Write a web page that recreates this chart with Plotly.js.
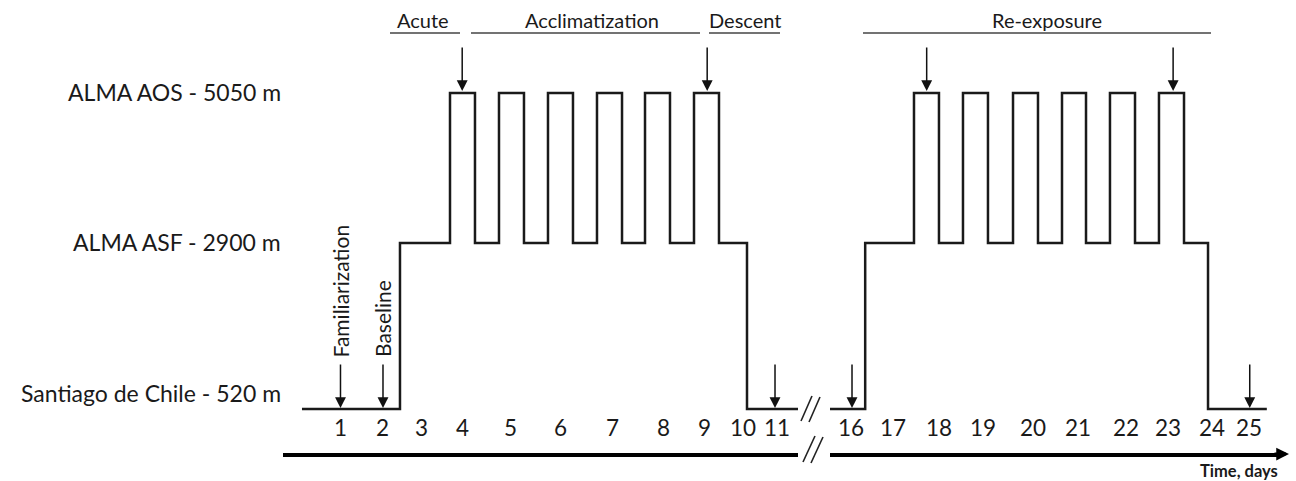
<!DOCTYPE html>
<html><head><meta charset="utf-8">
<script src="https://cdn.plot.ly/plotly-3.0.1.min.js"></script>
<style>html,body{margin:0;padding:0;background:#fff;}#chart{width:1296px;height:481px;}</style>
</head><body><div id="chart"></div>
<script>
// ---- data (schematic day units, altitude in m) ----
const levelNames = ['Santiago de Chile - 520 m', 'ALMA ASF - 2900 m', 'ALMA AOS - 5050 m'];
const levelAlt = [520, 2900, 5050];

const profile1X = [0.967,2.975,2.975,4.0,4.0,4.512,4.512,5.004,5.004,5.516,5.516,6.008,6.008,6.52,6.52,7.012,7.012,7.525,7.525,7.996,7.996,8.508,8.508,9.0,9.0,9.512,9.512,10.086,10.086,11.131];
const profile1Alt = [520,520,2900,2900,5050,5050,2900,2900,5050,5050,2900,2900,5050,5050,2900,2900,5050,5050,2900,2900,5050,5050,2900,2900,5050,5050,2900,2900,520,520];

const profile2X = [16.279,17.0,17.0,18.0,18.0,18.512,18.512,19.004,19.004,19.516,19.516,20.029,20.029,20.541,20.541,21.033,21.033,21.525,21.525,22.016,22.016,22.529,22.529,23.02,23.02,23.533,23.533,24.025,24.025,25.23];
const profile2Alt = [520,520,2900,2900,5050,5050,2900,2900,5050,5050,2900,2900,5050,5050,2900,2900,5050,5050,2900,2900,5050,5050,2900,2900,5050,5050,2900,2900,520,520];

const days1 = ['1','2','3','4','5','6','7','8','9','10','11'];
const days1Pos = [1.756,2.627,3.406,4.256,5.230,6.254,7.340,8.365,9.225,10.004,10.701];
const days2 = ['16','17','18','19','20','21','22','23','24','25'];
const days2Pos = [16.709,17.570,18.512,19.414,20.439,21.361,22.336,23.209,24.107,24.865];

const phaseNames = ['Acute','Acclimatization','Descent','Re-exposure'];
const phaseAxis = ['x','x','x','x2'];
const phaseStart = [2.77,4.43,9.307,16.955];
const phaseEnd = [4.205,9.123,10.762,24.086];
const phaseLabelPos = [3.447,6.91,10.045,20.725];

// test-day arrows: position, axis, level
const testPos = [1.756,2.627,4.25,9.27,10.66,16.73,18.26,23.31,24.88];
const testAxis = ['x','x','x','x','x','x2','x2','x2','x2'];
const testAlt = [520,520,5050,5050,520,520,5050,5050,520];

const sideLabels = ['Familiarization','Baseline'];
const sideLabelPos = [1.756,2.627];

// ---- layout helpers ----
const W = 1296, H = 481;
const px = v => v / W;
const py = v => (H - v) / H;
const font = 'Lato, "Open Sans", sans-serif';
const ink = '#1a1a1a';

const traces = [
  {x: profile1X, y: profile1Alt, xaxis: 'x', yaxis: 'y', mode: 'lines', line: {color: ink, width: 2.5}, hoverinfo: 'skip'},
  {x: profile2X, y: profile2Alt, xaxis: 'x2', yaxis: 'y', mode: 'lines', line: {color: ink, width: 2.5}, hoverinfo: 'skip'}
];

const annotations = [];
const shapes = [];

// altitude labels
levelNames.forEach((t, i) => {
  annotations.push({xref: 'paper', yref: 'y', x: px(283), y: levelAlt[i], yshift: i === 0 ? 16 : 1,
    xanchor: 'right', yanchor: 'middle', showarrow: false, text: t, font: {family: font, size: 23, color: ink}});
});

// day labels
days1.forEach((t, i) => annotations.push({xref: 'x', yref: 'paper', x: days1Pos[i], y: py(427), xanchor: 'center', yanchor: 'middle',
  showarrow: false, text: t, font: {family: font, size: 22.5, color: ink}}));
days2.forEach((t, i) => annotations.push({xref: 'x2', yref: 'paper', x: days2Pos[i], y: py(427), xanchor: 'center', yanchor: 'middle',
  showarrow: false, text: t, font: {family: font, size: 22.5, color: ink}}));

// phases
phaseNames.forEach((t, i) => {
  annotations.push({xref: phaseAxis[i], yref: 'paper', x: phaseLabelPos[i], y: py(20), xanchor: 'center', yanchor: 'middle',
    showarrow: false, text: t, font: {family: font, size: 20, color: ink}});
  shapes.push({type: 'line', xref: phaseAxis[i], yref: 'paper', x0: phaseStart[i], x1: phaseEnd[i], y0: py(33), y1: py(33),
    line: {color: '#444', width: 1.7}});
});

// arrows
testPos.forEach((p, i) => {
  const low = testAlt[i] === 520;
  const tip = low ? 534 : 5079;
  const tail = low ? 1179 : 5724;
  annotations.push({xref: testAxis[i], yref: 'y', axref: testAxis[i], ayref: 'y', x: p, y: tip, ax: p, ay: tail,
    showarrow: true, text: '', arrowhead: 2, arrowsize: 1.45, arrowwidth: 1.5, arrowcolor: '#111', standoff: 0});
});

// rotated labels
annotations.push({xref: 'x', yref: 'paper', x: sideLabelPos[0], y: py(291), textangle: -90, xanchor: 'center', yanchor: 'middle',
  showarrow: false, text: sideLabels[0], font: {family: font, size: 21, color: ink}});
annotations.push({xref: 'x', yref: 'paper', x: sideLabelPos[1], y: py(318), textangle: -90, xanchor: 'center', yanchor: 'middle',
  showarrow: false, text: sideLabels[1], font: {family: font, size: 21, color: ink}});

// time axis arrowhead + label
annotations.push({xref: 'paper', yref: 'paper', x: px(1289), y: py(454), ax: -16, ay: 0, showarrow: true, text: '',
  arrowhead: 2, arrowsize: 0.85, arrowwidth: 3, arrowcolor: '#000', standoff: 0});
annotations.push({xref: 'paper', yref: 'paper', x: px(1280), y: py(471), xanchor: 'right', yanchor: 'middle', showarrow: false,
  text: '<b>Time, days</b>', font: {family: font, size: 16.5, color: ink}});

// axis break marks
[[801,421,812,396],[809,422,820,397],[803,462,815,436],[811,463,823,437]].forEach(s => shapes.push({type: 'line', xref: 'paper', yref: 'paper',
  x0: px(s[0]), y0: py(s[1]), x1: px(s[2]), y1: py(s[3]), line: {color: '#222', width: 1.6}}));

const axisCommon = {showgrid: false, zeroline: false, showticklabels: false, ticks: '', anchor: 'free', position: py(454),
  showline: true, linecolor: '#000', linewidth: 3.5, fixedrange: true};

const layout = {
  width: W, height: H, margin: {l: 0, r: 0, t: 0, b: 0}, paper_bgcolor: '#fff', plot_bgcolor: '#fff', showlegend: false,
  xaxis: Object.assign({}, axisCommon, {domain: [px(283), px(798)], range: [0.578, 11.131]}),
  xaxis2: Object.assign({}, axisCommon, {domain: [px(830), px(1282)], range: [16.279, 25.541]}),
  yaxis: {domain: [0, 1], range: [-512, 6384], visible: false, fixedrange: true},
  annotations: annotations, shapes: shapes
};

Plotly.newPlot('chart', traces, layout, {staticPlot: true, displayModeBar: false});
</script></body></html>
